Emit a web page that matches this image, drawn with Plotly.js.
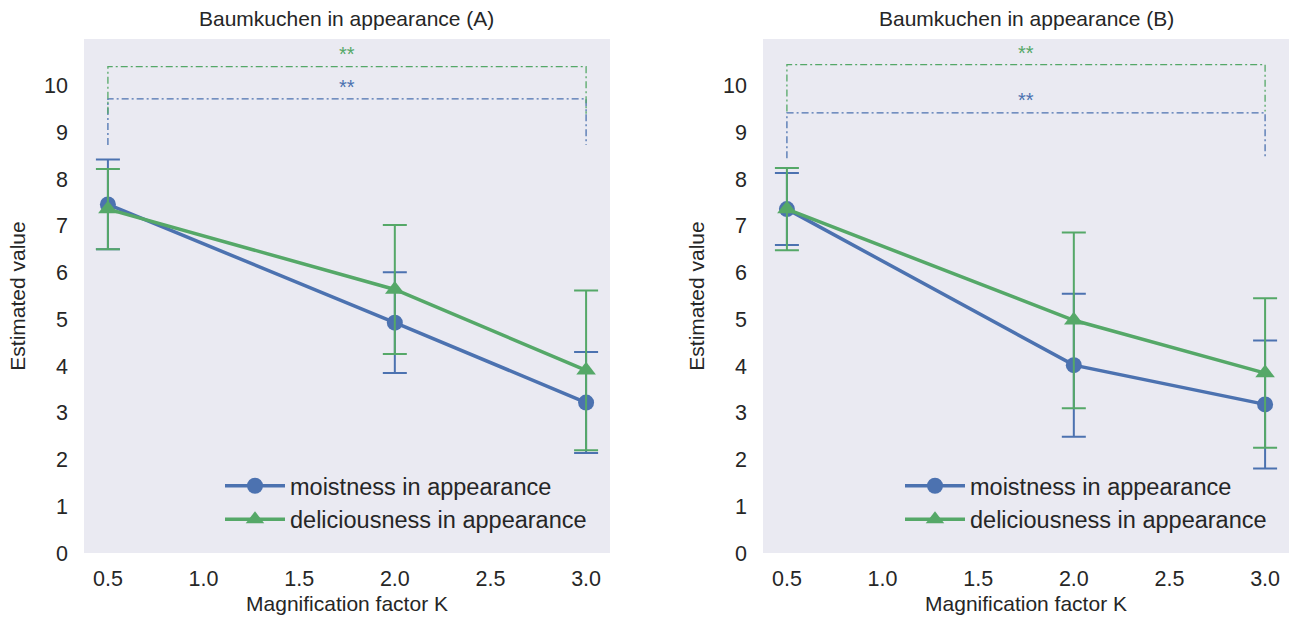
<!DOCTYPE html>
<html><head><meta charset="utf-8">
<script src="https://cdn.plot.ly/plotly-3.0.1.min.js"></script>
<style>html,body{margin:0;padding:0;background:#fff}#chart{width:1295px;height:620px}</style>
</head><body><div id="chart"></div>
<script>
// ---- data ----
const magnification = [0.5, 2.0, 3.0];
const moistA = [7.46, 4.93, 3.22];
const moistAErr = [0.96, 1.08, 1.08];
const deliA = [7.36, 5.64, 3.91];
const deliAErr = [0.86, 1.38, 1.71];
const moistB = [7.36, 4.02, 3.18];
const moistBErr = [0.77, 1.53, 1.37];
const deliB = [7.36, 4.98, 3.85];
const deliBErr = [0.88, 1.88, 1.60];
const bracketX = [0.5, 0.5, 3.0, 3.0];
const bracketMoistA = [8.73, 9.72, 9.72, 8.73];
const bracketDeliA = [9.40, 10.41, 10.41, 9.40];
const bracketMoistB = [8.45, 9.42, 9.42, 8.45];
const bracketDeliB = [9.45, 10.45, 10.45, 9.45];
const starX = 1.75;
const starYA = [9.98, 10.68]; // moist, deli
const starYB = [9.69, 10.70];
const seriesNames = ['moistness in appearance', 'deliciousness in appearance'];
const panelTitles = ['Baumkuchen in appearance (A)', 'Baumkuchen in appearance (B)'];
const xTicks = [0.5, 1.0, 1.5, 2.0, 2.5, 3.0];
const yTicks = [0,1,2,3,4,5,6,7,8,9,10];

// ---- style ----
const BLUE = '#4C72B0', GREEN = '#55A868', TXT = '#262626';
const FONT = 'Liberation Sans, Arial, sans-serif';
const W = 1295, H = 620;
const px = v => v / W, py = v => 1 - v / H;

function series(xa, ya, leg, y, err, name, color, symbol, show) {
  return {
    x: magnification, y: y, xaxis: xa, yaxis: ya, name: name, legend: leg,
    type: 'scatter', mode: 'lines+markers', showlegend: show,
    line: {color: color, width: 3.5},
    marker: {color: color, symbol: symbol, size: symbol === 'circle' ? 16 : 17},
    error_y: {type: 'data', array: err, visible: true, color: color, thickness: 2, width: 12}
  };
}
function bracket(xa, ya, y, color) {
  return {x: bracketX, y: y, xaxis: xa, yaxis: ya, type: 'scatter', mode: 'lines',
    showlegend: false, hoverinfo: 'skip',
    line: {color: color, width: 1.3, dash: '7px,3px,2px,3px'}};
}

const data = [
  bracket('x', 'y', bracketMoistA, BLUE),
  bracket('x', 'y', bracketDeliA, GREEN),
  series('x', 'y', 'legend', moistA, moistAErr, seriesNames[0], BLUE, 'circle', true),
  series('x', 'y', 'legend', deliA, deliAErr, seriesNames[1], GREEN, 'triangle-up', true),
  bracket('x2', 'y2', bracketMoistB, BLUE),
  bracket('x2', 'y2', bracketDeliB, GREEN),
  series('x2', 'y2', 'legend2', moistB, moistBErr, seriesNames[0], BLUE, 'circle', true),
  series('x2', 'y2', 'legend2', deliB, deliBErr, seriesNames[1], GREEN, 'triangle-up', true)
];

function xaxis(dom, anchor) {
  return {domain: dom, anchor: anchor, range: [0.375, 3.125], tickvals: xTicks,
    ticktext: xTicks.map(v => v.toFixed(1)), showgrid: false, zeroline: false,
    showline: false, ticks: '', ticklabelstandoff: 10,
    tickfont: {family: FONT, size: 21.5, color: TXT},
    title: {text: 'Magnification factor K', font: {family: FONT, size: 21, color: TXT}, standoff: 6}};
}
function yaxis(anchor) {
  return {domain: [py(553), py(39)], anchor: anchor, range: [0, 11], tickvals: yTicks,
    showgrid: false, zeroline: false, showline: false, ticks: '', ticklabelstandoff: 15,
    tickfont: {family: FONT, size: 21.5, color: TXT},
    title: {text: 'Estimated value', font: {family: FONT, size: 21, color: TXT}, standoff: 12}};
}

const annotations = [];
[[starYA, 'x', 'y'], [starYB, 'x2', 'y2']].forEach(([ys, xa, ya]) => {
  annotations.push({x: starX, y: ys[0], xref: xa, yref: ya, text: '**', showarrow: false,
    font: {family: FONT, size: 20, color: BLUE}, yanchor: 'middle'});
  annotations.push({x: starX, y: ys[1], xref: xa, yref: ya, text: '**', showarrow: false,
    font: {family: FONT, size: 20, color: GREEN}, yanchor: 'middle'});
});
[[panelTitles[0], 347], [panelTitles[1], 1026]].forEach(([t, cx]) => {
  annotations.push({x: px(cx), y: py(19), xref: 'paper', yref: 'paper', text: t, showarrow: false,
    xanchor: 'center', yanchor: 'middle', font: {family: FONT, size: 21, color: TXT}});
});

const legendStyle = (x) => ({x: x, y: py(464), xanchor: 'left', yanchor: 'top',
  bgcolor: 'rgba(0,0,0,0)', borderwidth: 0, itemwidth: 60,
  font: {family: FONT, size: 23.5, color: TXT}, tracegroupgap: 0});

const layout = {
  width: W, height: H, paper_bgcolor: '#ffffff', plot_bgcolor: '#EAEAF2',
  margin: {l: 0, r: 0, t: 0, b: 0},
  font: {family: FONT, color: TXT},
  xaxis: xaxis([px(84), px(610)], 'y'),
  yaxis: yaxis('x'),
  xaxis2: xaxis([px(763), px(1289)], 'y2'),
  yaxis2: yaxis('x2'),
  legend: legendStyle(px(220)),
  legend2: legendStyle(px(900)),
  annotations: annotations,
  showlegend: true
};

Plotly.newPlot('chart', data, layout, {displayModeBar: false, staticPlot: true});
</script></body></html>
